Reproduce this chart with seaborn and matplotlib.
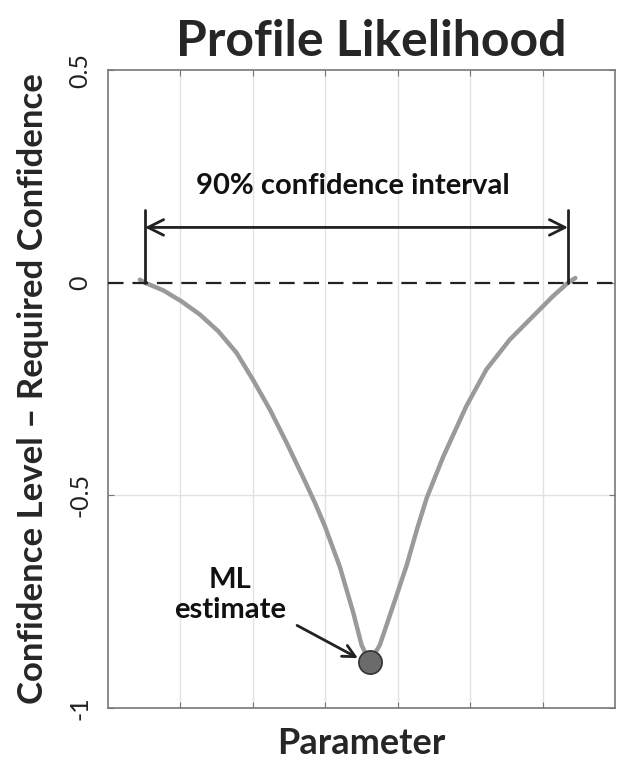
import numpy as np
import pandas as pd
import matplotlib
matplotlib.use("Agg")
import matplotlib.pyplot as plt
import seaborn as sns

# values
param = [0.44, 0.51, 0.763, 1.016, 1.269, 1.522, 1.775, 2.0, 2.234, 2.464, 2.694,
         2.855, 2.99, 3.2, 3.384, 3.5, 3.614, 3.752, 3.935, 4.12, 4.27, 4.40, 4.625,
         4.947, 5.223, 5.545, 5.866, 6.14, 6.35, 6.45]
conf_diff = [0.007, 0.0, -0.018, -0.044, -0.075, -0.114, -0.165, -0.228, -0.298,
             -0.376, -0.458, -0.517, -0.571, -0.668, -0.775, -0.852, -0.893, -0.852,
             -0.760, -0.666, -0.577, -0.506, -0.410, -0.29, -0.204, -0.134, -0.079,
             -0.032, 0.0, 0.011]
ml_param = [3.614]
ml_value = [-0.893]
ci_low, ci_high = 0.51, 6.35
y_ticks = [-1, -0.5, 0, 0.5]
y_ticklabels = ["-1", "-0.5", "0", "0.5"]
x_grid = [1, 2, 3, 4, 5, 6]

df = pd.DataFrame({"param": param, "value": conf_diff})

sns.set_style("white")
plt.rcParams['font.family'] = ['Lato', 'DejaVu Sans']

fig = plt.figure(figsize=(6.17, 7.62), dpi=100)
ax = fig.add_axes([0.175, 0.071, 0.822, 0.837])

sns.lineplot(data=df, x="param", y="value", sort=False, estimator=None,
             color="#9a9a9a", linewidth=3.2, ax=ax, zorder=3,
             solid_joinstyle="round", solid_capstyle="round")
sns.scatterplot(x=ml_param, y=ml_value, s=280, color="#6b6b6b",
                edgecolor="#333333", linewidth=1.2, ax=ax, zorder=5)

ax.set_xlim(0, 7)
ax.set_ylim(-1, 0.5)

# grid
for gx in x_grid:
    ax.axvline(gx, color="#e2e2e2", linewidth=1, zorder=0)
ax.axhline(-0.5, color="#e2e2e2", linewidth=1, zorder=0)
ax.axhline(0, color="#222222", linewidth=1.6, dashes=(7, 4), zorder=4)

# confidence interval markers
ax.plot([ci_low, ci_low], [0, 0.17], color="#222222", linewidth=2, zorder=4)
ax.plot([ci_high, ci_high], [0, 0.17], color="#222222", linewidth=2, zorder=4)
ax.annotate("", xy=(ci_low, 0.13), xytext=(ci_high, 0.13),
            arrowprops=dict(arrowstyle="<->", color="#222222", lw=2,
                            mutation_scale=28, shrinkA=0, shrinkB=0))
ax.text(3.38, 0.228, "90% confidence interval",
        ha="center", va="center", fontsize=21, fontweight="bold", color="#111111")

# ML estimate
ax.text(1.68, -0.735, "ML\nestimate", ha="center", va="center", fontsize=21,
        fontweight="bold", color="#111111", linespacing=1.2)
ax.annotate("", xy=(3.45, -0.883), xytext=(2.61, -0.806),
            arrowprops=dict(arrowstyle="->", color="#222222", lw=2,
                            mutation_scale=22, shrinkA=0, shrinkB=0))

ax.set_xticks(x_grid)
ax.set_xticklabels([])
ax.set_yticks(y_ticks)
ax.set_yticklabels(y_ticklabels, rotation=90, va="center", fontsize=18, color="#222222")
ax.tick_params(axis="both", direction="in", length=4, color="#777777",
               left=True, bottom=True, right=True, top=True)
ax.tick_params(axis="y", pad=12)

for sp in ax.spines.values():
    sp.set_color("#777777")
    sp.set_linewidth(1.2)

ax.set_xlabel("Parameter", fontsize=26, fontweight="bold", labelpad=10)
ax.set_ylabel("Confidence Level \u2013 Required Confidence", fontsize=25,
              fontweight="bold", labelpad=14)
ax.set_title("Profile Likelihood", fontsize=36, fontweight="bold", pad=10, x=0.52)

fig.savefig("out.png", dpi=100)
